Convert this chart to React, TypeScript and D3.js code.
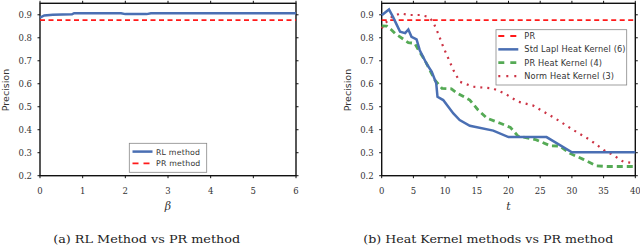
import React from "react";
import { scaleLinear, line } from "d3";

// left panel: RL method vs PR method
const betaRL = [0, 0.1, 0.3, 0.75, 0.8, 1.9, 2.0, 2.5, 2.6, 6];
const precRL = [0.888, 0.897, 0.9, 0.902, 0.907, 0.907, 0.903, 0.903, 0.907, 0.907];
const prLevel = 0.877;

// right panel: heat kernels vs PR
const tStd = [0, 1.15, 1.8, 2.4, 2.9, 3.7, 4.2, 4.7, 5.5, 6.0, 7.1, 7.9, 8.6, 8.8, 9.7, 11.3, 12.3, 13.9, 17.6, 20, 26, 30, 40];
const precStd = [0.898, 0.923, 0.89, 0.855, 0.826, 0.82, 0.836, 0.804, 0.793, 0.746, 0.686, 0.652, 0.602, 0.543, 0.529, 0.471, 0.442, 0.417, 0.396, 0.368, 0.368, 0.302, 0.302];

const tPRH = [0, 0.8, 1.6, 2.1, 4.2, 5.2, 5.8, 6.8, 7.6, 8.4, 9.5, 11, 11.8, 13.9, 15.2, 16.6, 18.7, 20.3, 21.5, 24.4, 26.6, 28.1, 29.7, 31.8, 33.9, 35.5, 40];
const precPRH = [0.852, 0.851, 0.833, 0.819, 0.779, 0.776, 0.746, 0.703, 0.659, 0.616, 0.58, 0.578, 0.561, 0.529, 0.486, 0.45, 0.428, 0.41, 0.372, 0.356, 0.33, 0.329, 0.297, 0.271, 0.243, 0.24, 0.24];

const tNorm = [0, 0.8, 1.6, 2.9, 4.5, 6, 7.4, 8.1, 8.9, 9.7, 11.3, 12.3, 14.4, 17.5, 19.4, 21.5, 23.9, 26, 27.5, 30.2, 32.9, 35, 36.5, 38.1, 40];
const precNorm = [0.841, 0.87, 0.891, 0.906, 0.899, 0.899, 0.891, 0.87, 0.819, 0.761, 0.66, 0.609, 0.587, 0.58, 0.558, 0.522, 0.505, 0.471, 0.447, 0.399, 0.355, 0.312, 0.29, 0.261, 0.254];

const yTicks = [0.2, 0.3, 0.4, 0.5, 0.6, 0.7, 0.8, 0.9];
const betaTicks = [0, 1, 2, 3, 4, 5, 6];
const tTicks = [0, 5, 10, 15, 20, 25, 30, 35, 40];

const BLUE = "#4a6fb3";
const RED = "#ff1a1a";
const GREEN = "#55aa55";
const DOTRED = "#cc3344";
const SERIF = "'DejaVu Serif', serif";
const SANS = "'DejaVu Sans', sans-serif";

type Pt = [number, number];
const zip = (xs: number[], ys: number[]): Pt[] => xs.map((x, i) => [x, ys[i]]);

const yScale = scaleLinear().domain([0.2, 0.95]).range([175.7, 3.3]);

function Frame({ x, xTicks, xLabel }: { x: any; xTicks: number[]; xLabel: string }) {
  const [x0, x1] = x.range();
  const [yb, yt] = yScale.range();
  return (
    <g>
      <rect x={x0} y={yt} width={x1 - x0} height={yb - yt} fill="none" stroke="#111" strokeWidth={1.4} />
      {xTicks.map((v) => (
        <g key={"x" + v}>
          <line x1={x(v)} x2={x(v)} y1={yb} y2={yb + 2.5} stroke="#111" />
          <line x1={x(v)} x2={x(v)} y1={yt} y2={yt - 2.5} stroke="#111" />
          <text x={x(v)} y={194} fontSize={8.5} fontFamily={SERIF} textAnchor="middle" fill="#333">
            {v}
          </text>
        </g>
      ))}
      {yTicks.map((v) => (
        <g key={"y" + v}>
          <line x1={x0 - 2.5} x2={x0} y1={yScale(v)} y2={yScale(v)} stroke="#111" />
          <line x1={x1} x2={x1 + 2.5} y1={yScale(v)} y2={yScale(v)} stroke="#111" />
          <text x={x0 - 8} y={yScale(v) + 3} fontSize={8.5} fontFamily={SERIF} textAnchor="end" fill="#333">
            {v.toFixed(1)}
          </text>
        </g>
      ))}
      <text x={(x0 + x1) / 2} y={210} fontSize={11} fontFamily={SERIF} fontStyle="italic" textAnchor="middle" fill="#333">
        {xLabel}
      </text>
      <text
        transform={`translate(${x0 - 31},${90}) rotate(-90)`}
        fontSize={9.5}
        fontFamily={SANS}
        textAnchor="middle"
        fill="#333"
      >
        Precision
      </text>
    </g>
  );
}

export default function App() {
  const xL = scaleLinear().domain([0, 6]).range([40, 296]);
  const xR = scaleLinear().domain([0, 40]).range([381.7, 635.3]);
  const lineL = line<Pt>().x((d) => xL(d[0])).y((d) => yScale(d[1]));
  const lineR = line<Pt>().x((d) => xR(d[0])).y((d) => yScale(d[1]));

  const legendL = [
    { label: "RL method", color: BLUE, dash: "none", w: 2.5 },
    { label: "PR method", color: RED, dash: "6,5", w: 1.8 },
  ];
  const legendR = [
    { label: "PR", color: RED, dash: "6,6", w: 1.8 },
    { label: "Std Lapl Heat Kernel (6)", color: BLUE, dash: "none", w: 2.5 },
    { label: "PR Heat Kernel (4)", color: GREEN, dash: "6,6", w: 2.8 },
    { label: "Norm Heat Kernel (3)", color: DOTRED, dash: "2,6", w: 2.2 },
  ];

  return (
    <svg width={640} height={247} style={{ position: "absolute", left: 0, top: 0, background: "#fff" }}>
      {/* left panel */}
      <Frame x={xL} xTicks={betaTicks} xLabel="β" />
      <path
        d={lineL(zip([0, 6], [prLevel, prLevel])) || ""}
        fill="none"
        stroke={RED}
        strokeWidth={1.8}
        strokeDasharray="5,3.5"
      />
      <path d={lineL(zip(betaRL, precRL)) || ""} fill="none" stroke={BLUE} strokeWidth={2.5} />
      <rect x={129.3} y={143.3} width={77.4} height={29} fill="#fff" stroke="#888" strokeWidth={0.8} />
      {legendL.map((d, i) => (
        <g key={d.label} transform={`translate(0,${151.6 + i * 11.7})`}>
          <line x1={132.5} x2={152.5} y1={0} y2={0} stroke={d.color} strokeWidth={d.w} strokeDasharray={d.dash} />
          <text x={156} y={3} fontSize={7.8} fontFamily={SANS} fill="#333" letterSpacing={0.2}>
            {d.label}
          </text>
        </g>
      ))}
      <text x={146.7} y={243} fontSize={11} fontFamily={SERIF} textAnchor="middle" fill="#222" textLength={187} lengthAdjust="spacingAndGlyphs">
        (a) RL Method vs PR method
      </text>

      {/* right panel */}
      <Frame x={xR} xTicks={tTicks} xLabel="t" />
      <path
        d={lineR(zip([0, 40], [prLevel, prLevel])) || ""}
        fill="none"
        stroke={RED}
        strokeWidth={1.8}
        strokeDasharray="5,3.5"
      />
      <path d={lineR(zip(tNorm, precNorm)) || ""} fill="none" stroke={DOTRED} strokeWidth={2.2} strokeDasharray="2,5" />
      <path d={lineR(zip(tPRH, precPRH)) || ""} fill="none" stroke={GREEN} strokeWidth={2.8} strokeDasharray="6,4" />
      <path d={lineR(zip(tStd, precStd)) || ""} fill="none" stroke={BLUE} strokeWidth={2.5} />
      <rect x={496} y={29.7} width={130.7} height={55.3} fill="#fff" stroke="#888" strokeWidth={0.8} />
      {legendR.map((d, i) => (
        <g key={d.label} transform={`translate(0,${36 + i * 13.35})`}>
          <line x1={498.3} x2={518.3} y1={0} y2={0} stroke={d.color} strokeWidth={d.w} strokeDasharray={d.dash} />
          <text x={524.3} y={3} fontSize={8.2} fontFamily={SANS} fill="#333" letterSpacing={0.15}>
            {d.label}
          </text>
        </g>
      ))}
      <text x={488.3} y={243} fontSize={11} fontFamily={SERIF} textAnchor="middle" fill="#222" textLength={250} lengthAdjust="spacingAndGlyphs">
        (b) Heat Kernel methods vs PR method
      </text>
    </svg>
  );
}
